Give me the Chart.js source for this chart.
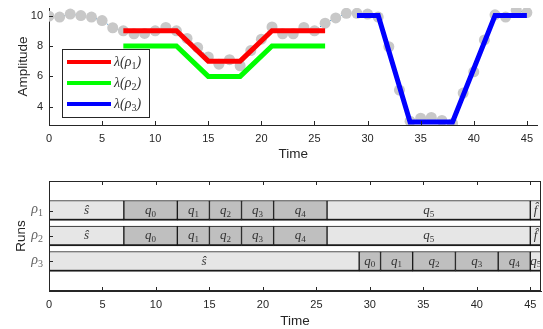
<!DOCTYPE html>
<html>
<head>
<meta charset="utf-8">
<script src="https://cdn.jsdelivr.net/npm/chart.js@4"></script>
<style>
  body { margin: 0; background: #fff; }
  #wrap { position: relative; width: 543px; height: 329px; }
  canvas { position: absolute; left: 0; }
</style>
</head>
<body>
<div id="wrap">
  <canvas id="ampChart" width="543" height="170" style="top:0px"></canvas>
  <canvas id="runChart" width="543" height="159" style="top:170px"></canvas>
</div>
<script>
// datos
const timeSteps = [0,1,2,3,4,5,6,7,8,9,10,11,12,13,14,15,16,17,18,19,20,21,22,23,
  24,25,26,27,28,29,30,31,32,33,34,35,36,37,38,39,40,41,42,43,44,45];
const measured = [9.96,9.9,10.1,10.0,9.9,9.67,9.2,9.0,8.8,8.83,9.0,9.22,9.0,8.5,7.9,
  7.28,6.8,7.1,6.7,7.7,8.45,9.25,8.8,8.8,9.22,9.0,9.5,9.85,10.15,10.15,
  10.1,9.9,7.95,5.1,3.05,3.25,3.3,3.1,2.9,4.9,6.3,8.4,10.05,9.9,10.35,10.2];

const rho1Time = [7,12,15,18,21,26];
const rho1Amp  = [9,9,7,7,9,9];
const rho2Time = [7,12,15,18,21,26];
const rho2Amp  = [8,8,6,6,8,8];
const rho3Time = [29,31,34,38,42,45];
const rho3Amp  = [10,10,3,3,10,10];

const xTicks = [0,5,10,15,20,25,30,35,40,45];
const yTicks = [4,6,8,10];

const runs = ['ρ₁','ρ₂','ρ₃'];
const run1Labels = ['ŝ','q₀','q₁','q₂','q₃','q₄','q₅','f̂'];
const run1Bounds = [0,7,12,15,18,21,26,45,46];
const run2Labels = ['ŝ','q₀','q₁','q₂','q₃','q₄','q₅','f̂'];
const run2Bounds = [0,7,12,15,18,21,26,45,46];
const run3Labels = ['ŝ','q₀','q₁','q₂','q₃','q₄','q₅'];
const run3Bounds = [0,29,31,34,38,42,45,46];

const AXIS = '#262626';
const sansFont = { family: 'Liberation Sans, Arial, sans-serif', size: 11 };
const titleFont = { family: 'Liberation Sans, Arial, sans-serif', size: 13.5 };
const SERIF = '"Liberation Serif", "DejaVu Serif", serif';
const SUBS = '₀₁₂₃₄₅₆₇₈₉';

function toPoints(xs, ys) {
  return xs.map((x, i) => ({ x: x, y: ys[i] }));
}

// texto con subindices dibujados a mano (estilo LaTeX)
function drawMath(ctx, text, x, y, size, align) {
  const parts = [];
  for (const ch of text) {
    const k = SUBS.indexOf(ch);
    if (k >= 0) parts.push({ t: String(k), sub: true });
    else if (parts.length && !parts[parts.length - 1].sub) parts[parts.length - 1].t += ch;
    else parts.push({ t: ch, sub: false });
  }
  const subSize = Math.round(size * 0.72);
  const fontFor = p => p.sub ? subSize + 'px ' + SERIF : 'italic ' + size + 'px ' + SERIF;
  let total = 0;
  parts.forEach(p => { ctx.font = fontFor(p); p.w = ctx.measureText(p.t).width; total += p.w; });
  let cx = align === 'center' ? x - total / 2 : (align === 'right' ? x - total : x);
  ctx.textAlign = 'left';
  ctx.textBaseline = 'middle';
  parts.forEach(p => {
    ctx.font = fontFor(p);
    ctx.fillText(p.t, cx, p.sub ? y + size * 0.28 : y);
    cx += p.w;
  });
}

// sin relleno extra alrededor del area
function noPadX(s, h) { s.height = h; s.paddingLeft = 0; s.paddingRight = 0; }
function noPadY(s) { s.width = 49; s.paddingTop = 0; s.paddingBottom = 0; }

// ticks hacia dentro
function innerTicks(ctx, chart, withBox) {
  const a = chart.chartArea;
  const x = chart.scales.x, y = chart.scales.y;
  ctx.save();
  ctx.strokeStyle = AXIS;
  ctx.lineWidth = 1;
  ctx.beginPath();
  x.ticks.forEach(t => {
    const px = Math.round(x.getPixelForValue(t.value)) + 0.5;
    ctx.moveTo(px, a.bottom); ctx.lineTo(px, a.bottom - 4);
    if (withBox) { ctx.moveTo(px, a.top); ctx.lineTo(px, a.top + 4); }
  });
  y.ticks.forEach(t => {
    const py = Math.round(y.getPixelForValue(t.value)) + 0.5;
    ctx.moveTo(a.left, py); ctx.lineTo(a.left + 4, py);
  });
  ctx.stroke();
  if (withBox) {
    ctx.strokeRect(Math.round(a.left) + 0.5, Math.round(a.top) + 0.5,
      Math.round(a.right - a.left) - 1, Math.round(a.bottom - a.top) - 1);
  }
  ctx.restore();
}

const ampPlugin = {
  id: 'ampExtras',
  afterDraw(chart) {
    const ctx = chart.ctx;
    innerTicks(ctx, chart, false);
    // leyenda
    const items = chart.data.datasets.filter(d => d.inLegend);
    ctx.save();
    ctx.fillStyle = '#fff';
    ctx.fillRect(62, 49, 87, 68);
    ctx.strokeStyle = AXIS;
    ctx.lineWidth = 1;
    ctx.strokeRect(62.5, 49.5, 87, 68);
    items.forEach((d, i) => {
      const yy = 62 + i * 21;
      ctx.strokeStyle = d.borderColor;
      ctx.lineWidth = 4;
      ctx.beginPath();
      ctx.moveTo(67, yy); ctx.lineTo(111, yy);
      ctx.stroke();
      ctx.fillStyle = '#333';
      drawMath(ctx, d.label, 114, yy, 14, 'left');
    });
    ctx.restore();
  }
};

new Chart(document.getElementById('ampChart'), {
  type: 'line',
  data: {
    datasets: [
      { label: 'λ(ρ₁)', inLegend: true, data: toPoints(rho1Time, rho1Amp), borderColor: '#ff0000',
        borderWidth: 5, pointRadius: 0, fill: false, order: 1 },
      { label: 'λ(ρ₂)', inLegend: true, data: toPoints(rho2Time, rho2Amp), borderColor: '#00ff00',
        borderWidth: 5, pointRadius: 0, fill: false, order: 2 },
      { label: 'λ(ρ₃)', inLegend: true, data: toPoints(rho3Time, rho3Amp), borderColor: '#0000ff',
        borderWidth: 5, pointRadius: 0, fill: false, order: 3 },
      { label: 'medido', data: toPoints(timeSteps, measured), borderColor: '#0072BD',
        borderWidth: 1, borderDash: [1, 2], pointRadius: 5.5, pointBorderWidth: 0,
        pointBackgroundColor: '#c8c8c8', fill: false, order: 10 }
    ]
  },
  options: {
    responsive: false,
    animation: false,
    devicePixelRatio: 1,
    layout: { padding: { top: 8, right: 2, left: 0, bottom: 0 } },
    plugins: { legend: { display: false }, tooltip: { enabled: false } },
    scales: {
      x: {
        type: 'linear', min: 0, max: 46,
        afterBuildTicks: s => { s.ticks = xTicks.map(v => ({ value: v })); },
        afterFit: s => noPadX(s, 45),
        grid: { display: false, drawTicks: false },
        border: { display: true, color: AXIS, width: 1 },
        ticks: { font: sansFont, color: AXIS, padding: 7, maxRotation: 0 },
        title: { display: true, text: 'Time', font: titleFont, color: AXIS, padding: { top: 0, bottom: 8 } }
      },
      y: {
        type: 'linear', min: 2.8, max: 10.5,
        afterBuildTicks: s => { s.ticks = yTicks.map(v => ({ value: v })); },
        afterFit: noPadY,
        grid: { display: false, drawTicks: false },
        border: { display: true, color: AXIS, width: 1 },
        ticks: { font: sansFont, color: AXIS, padding: 6 },
        title: { display: true, text: 'Amplitude', font: titleFont, color: AXIS, padding: { top: 15, bottom: 0 } }
      }
    }
  },
  plugins: [ampPlugin]
});

// segmentos de cada corrida
function segments(labels, bounds, row) {
  return labels.map((lab, i) => ({ x: [bounds[i], bounds[i + 1]], y: row, label: lab }));
}
const segs = [].concat(
  segments(run1Labels, run1Bounds, 1),
  segments(run2Labels, run2Bounds, 2),
  segments(run3Labels, run3Bounds, 3)
);
const lightKinds = ['ŝ', 'q₅', 'f̂'];
const segColors = segs.map(s => lightKinds.includes(s.label) ? '#e6e6e6' : '#bfbfbf');

const runPlugin = {
  id: 'runExtras',
  afterDatasetsDraw(chart) {
    const ctx = chart.ctx;
    const meta = chart.getDatasetMeta(0);
    ctx.save();
    ctx.fillStyle = '#333';
    meta.data.forEach((bar, i) => {
      const cx = (bar.x + bar.base) / 2;
      drawMath(ctx, segs[i].label, cx, bar.y, 13, 'center');
    });
    // etiquetas de las corridas en el eje y
    const y = chart.scales.y;
    ctx.fillStyle = '#666';
    y.ticks.forEach(t => {
      drawMath(ctx, runs[t.value - 1], chart.chartArea.left - 6, y.getPixelForValue(t.value) - 1, 14, 'right');
    });
    ctx.restore();
  },
  afterDraw(chart) {
    innerTicks(chart.ctx, chart, true);
  }
};

new Chart(document.getElementById('runChart'), {
  type: 'bar',
  data: {
    datasets: [{
      data: segs,
      backgroundColor: segColors,
      borderColor: '#1a1a1a',
      borderWidth: { top: 1, left: 1, right: 1, bottom: 2 },
      borderSkipped: false,
      barThickness: 20
    }]
  },
  options: {
    indexAxis: 'y',
    responsive: false,
    animation: false,
    devicePixelRatio: 1,
    layout: { padding: { top: 11, right: 2, left: 0, bottom: 0 } },
    plugins: { legend: { display: false }, tooltip: { enabled: false } },
    scales: {
      x: {
        type: 'linear', min: 0, max: 46,
        afterBuildTicks: s => { s.ticks = xTicks.map(v => ({ value: v })); },
        afterFit: s => noPadX(s, 38),
        grid: { display: false, drawTicks: false },
        border: { display: true, color: AXIS, width: 1 },
        ticks: { font: sansFont, color: AXIS, padding: 7, maxRotation: 0 },
        title: { display: true, text: 'Time', font: titleFont, color: AXIS, padding: { top: 0, bottom: 0 } }
      },
      y: {
        type: 'linear', min: -0.16, max: 4.16, reverse: true, offset: false,
        afterBuildTicks: s => { s.ticks = [1, 2, 3].map(v => ({ value: v })); },
        afterFit: noPadY,
        grid: { display: false, drawTicks: false, offset: false },
        border: { display: true, color: AXIS, width: 1 },
        ticks: { display: false },
        title: { display: true, text: 'Runs', font: titleFont, color: AXIS, padding: { top: 13, bottom: 0 } }
      }
    }
  },
  plugins: [runPlugin]
});
</script>
</body>
</html>
